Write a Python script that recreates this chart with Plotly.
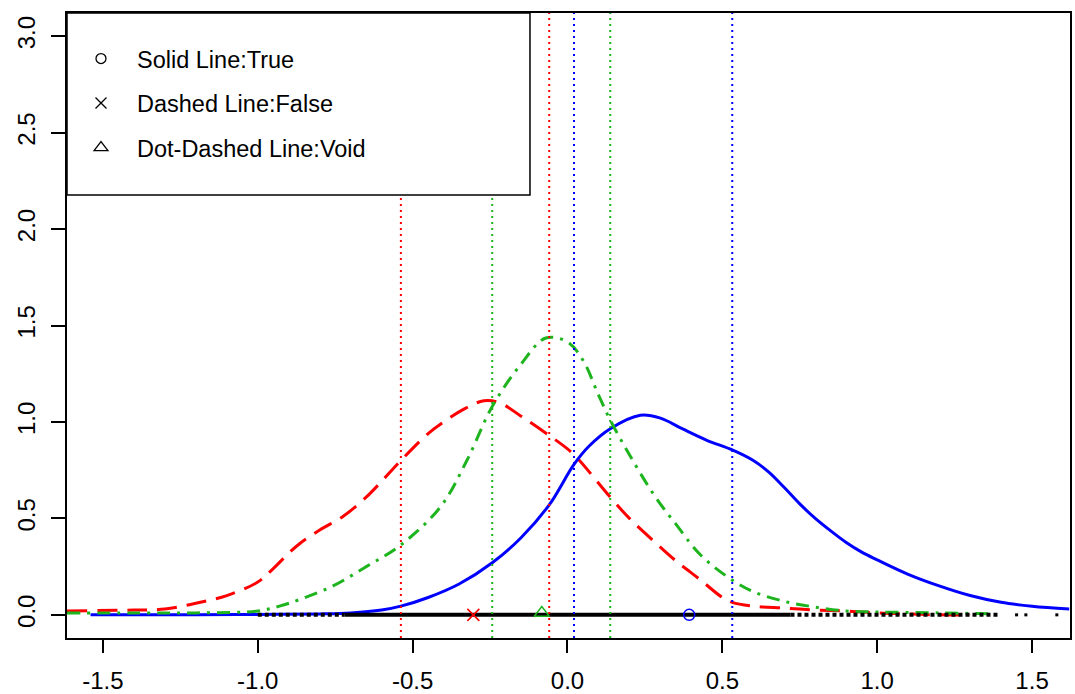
import plotly.graph_objects as go

# ---- data ----
true_x = [-1.54, -1.2, -1.0, -0.8, -0.7, -0.6, -0.538, -0.45, -0.35, -0.243, -0.15, -0.059,
          0.021, 0.07, 0.138, 0.235, 0.3, 0.37, 0.45, 0.532, 0.6, 0.65, 0.7, 0.75, 0.8,
          0.85, 0.9, 0.95, 1.0, 1.1, 1.2, 1.3, 1.4, 1.5, 1.62]
true_y = [0.0, 0.0, 0.002, 0.005, 0.01, 0.025, 0.045, 0.09, 0.16, 0.27, 0.40, 0.57,
          0.78, 0.875, 0.965, 1.035, 1.02, 0.965, 0.905, 0.855, 0.80, 0.74, 0.66, 0.575, 0.50,
          0.435, 0.375, 0.325, 0.285, 0.21, 0.15, 0.10, 0.065, 0.045, 0.03]

false_x = [-1.616, -1.4, -1.3, -1.2, -1.1, -1.0, -0.95, -0.9, -0.864, -0.8, -0.725, -0.65,
           -0.59, -0.538, -0.45, -0.4, -0.33, -0.27, -0.22, -0.15, -0.059, 0.0, 0.033,
           0.138, 0.2, 0.28, 0.35, 0.43, 0.5, 0.532, 0.6, 0.7, 0.8, 0.9, 1.0, 1.1, 1.2, 1.3]
false_y = [0.02, 0.025, 0.03, 0.06, 0.10, 0.17, 0.24, 0.32, 0.37, 0.44, 0.51, 0.61,
           0.71, 0.80, 0.94, 1.0, 1.07, 1.11, 1.10, 1.03, 0.93, 0.86, 0.81,
           0.61, 0.50, 0.38, 0.28, 0.18, 0.09, 0.065, 0.045, 0.035, 0.025, 0.02, 0.01, 0.005, 0.0, 0.0]

void_x = [-1.616, -1.4, -1.2, -1.0, -0.93, -0.864, -0.757, -0.65, -0.54, -0.41, -0.325,
          -0.243, -0.15, -0.07, 0.0, 0.05, 0.1, 0.138, 0.2, 0.28, 0.35, 0.43, 0.532,
          0.6, 0.7, 0.8, 0.9, 1.0, 1.2, 1.38]
void_y = [0.01, 0.01, 0.01, 0.02, 0.045, 0.08, 0.15, 0.25, 0.36, 0.56, 0.80,
          1.08, 1.30, 1.435, 1.415, 1.32, 1.14, 1.01, 0.83, 0.62, 0.47, 0.31, 0.18,
          0.12, 0.07, 0.04, 0.02, 0.015, 0.01, 0.005]

# interval bounds (dotted verticals) and point estimates
false_bounds = [-0.538, -0.059]
void_bounds = [-0.243, 0.138]
true_bounds = [0.021, 0.532]
false_point = -0.304
void_point = -0.083
true_point = 0.393

# observations along the axis
rug_dense = [-0.72, 0.72]
rug_sparse = [-1.0, -0.72, None, 0.72, 1.39]
rug_dots = [1.45, 1.48, 1.58]

legend_labels = ["Solid Line:True", "Dashed Line:False", "Dot-Dashed Line:Void"]

x_ticks = [-1.5, -1.0, -0.5, 0.0, 0.5, 1.0, 1.5]
y_ticks = [0.0, 0.5, 1.0, 1.5, 2.0, 2.5, 3.0]

RED = "#FF0000"
GREEN = "#1EB41E"
BLUE = "#0000FF"
FONT = "Liberation Sans, Arial, sans-serif"

fig = go.Figure()

fig.add_trace(go.Scatter(x=false_x, y=false_y, mode="lines", line_shape="spline",
                         line=dict(color=RED, width=3, dash="20px,10px"), showlegend=False))
fig.add_trace(go.Scatter(x=true_x, y=true_y, mode="lines", line_shape="spline",
                         line=dict(color=BLUE, width=3), showlegend=False))
fig.add_trace(go.Scatter(x=void_x, y=void_y, mode="lines", line_shape="spline",
                         line=dict(color=GREEN, width=3, dash="13px,7px,3px,7px"), showlegend=False))

# rug-like observations
fig.add_trace(go.Scatter(x=rug_sparse, y=[0 if v is not None else None for v in rug_sparse],
                         mode="lines", line=dict(color="black", width=4, dash="4px,3px"),
                         showlegend=False))
fig.add_trace(go.Scatter(x=rug_dense, y=[0, 0], mode="lines",
                         line=dict(color="black", width=4), showlegend=False))
fig.add_trace(go.Scatter(x=rug_dots, y=[0] * len(rug_dots), mode="markers",
                         marker=dict(color="black", size=3, symbol="square"), showlegend=False))

# dotted vertical interval lines
for bounds, col in [(false_bounds, RED), (void_bounds, GREEN), (true_bounds, BLUE)]:
    for b in bounds:
        fig.add_vline(x=b, line=dict(color=col, width=2, dash="2px,4px"), layer="above")

# point estimates
fig.add_trace(go.Scatter(x=[false_point], y=[0], mode="markers",
                         marker=dict(symbol="x-thin-open", size=12, color=RED,
                                     line=dict(color=RED, width=1.5)), showlegend=False))
fig.add_trace(go.Scatter(x=[void_point], y=[0.01], mode="markers",
                         marker=dict(symbol="triangle-up-open", size=13, color=GREEN,
                                     line=dict(color=GREEN, width=1.5)), showlegend=False))
fig.add_trace(go.Scatter(x=[true_point], y=[0], mode="markers",
                         marker=dict(symbol="circle-open", size=11, color=BLUE,
                                     line=dict(color=BLUE, width=1.5)), showlegend=False))

# legend entries (symbols only)
for lab, sym, sz in zip(legend_labels, ["circle-open", "x-thin-open", "triangle-up-open"], [10, 11, 12]):
    fig.add_trace(go.Scatter(x=[None], y=[None], mode="markers", name=lab, legendgroup=lab,
                             marker=dict(symbol=sym, size=sz, color="black",
                                         line=dict(color="black", width=1.3))))

# legend box
fig.add_shape(type="rect", xref="paper", yref="paper", x0=0, x1=0.4616, y0=0.7088, y1=1,
              fillcolor="white", line=dict(color="black", width=1.5), layer="above")

fig.update_layout(
    width=1075, height=694,
    margin=dict(l=67, r=5, t=13, b=56, autoexpand=False),
    paper_bgcolor="white", plot_bgcolor="white",
    font=dict(family=FONT, size=24, color="black"),
    showlegend=True,
    legend=dict(x=-0.002, y=0.962, xanchor="left", yanchor="top",
                bgcolor="rgba(0,0,0,0)", borderwidth=0,
                font=dict(family=FONT, size=23.5, color="black"),
                itemwidth=62, tracegroupgap=11, itemclick=False),
    xaxis=dict(range=[-1.616, 1.6225], tickvals=x_ticks, ticktext=[f"{v:.1f}" for v in x_ticks],
               showgrid=False, zeroline=False, showline=True, mirror=True, automargin=False,
               linecolor="black", linewidth=2, ticks="outside", ticklen=13, tickwidth=2,
               tickcolor="black", ticklabelstandoff=7, tickfont=dict(size=24)),
    yaxis=dict(range=[-0.12, 3.12], tickvals=y_ticks, ticktext=[f"{v:.1f}" for v in y_ticks],
               showgrid=False, zeroline=False, showline=True, mirror=True, automargin=False,
               linecolor="black", linewidth=2, ticks="outside", ticklen=14, tickwidth=2,
               tickcolor="black", tickangle=-90, ticklabelstandoff=6, tickfont=dict(size=24)),
)

fig.write_html("out.html", config={"displayModeBar": False},
               post_script="document.body.style.margin='0';document.body.style.overflow='hidden';")
